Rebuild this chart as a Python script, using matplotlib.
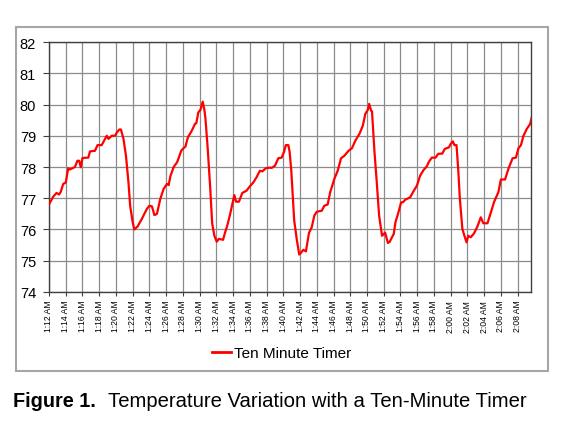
import matplotlib
matplotlib.use("Agg")
import matplotlib.pyplot as plt
from matplotlib.patches import Rectangle
from matplotlib.lines import Line2D

#Data (minutes after 1:12 AM, temperature)
minutes = [0.0, 0.5, 0.9, 1.2, 1.4, 1.7, 2.0, 2.3, 2.5, 3.1, 3.4, 3.6, 3.8, 4.0, 4.7, 4.9,
           5.5, 5.8, 6.3, 6.7, 6.9, 7.1, 7.5, 7.9, 8.1, 8.4, 8.6, 8.9, 9.2, 9.5, 9.7, 10.0,
           10.2, 10.6, 10.8, 11.1, 11.3, 11.7, 12.0, 12.3, 12.6, 12.9, 13.3, 13.7, 14.1, 14.3,
           14.5, 14.9, 15.3, 15.5, 15.8, 16.06, 16.3, 16.6, 17.06, 17.45, 17.6, 17.85, 18.1,
           18.37, 18.57, 18.7, 18.97, 19.25, 19.5, 19.76, 20.05, 20.3, 20.8, 21.04, 21.3, 21.6,
           21.96, 22.15, 22.35, 22.7, 23.1, 23.6, 24.0, 24.4, 24.8, 25.2, 25.5, 25.9, 26.4,
           26.6, 27.0, 27.4, 27.8, 28.1, 28.3, 28.6, 28.75, 28.95, 29.3, 29.6, 29.9, 30.1,
           30.4, 30.7, 31.08, 31.4, 31.7, 32.0, 32.6, 32.9, 33.3, 33.6, 34.1, 34.5, 34.9,
           35.3, 35.8, 36.2, 36.6, 37.1, 37.5, 37.8, 38.1, 38.26, 38.5, 38.6, 38.9, 39.2,
           39.45, 39.8, 40.17, 40.5, 40.7, 41.2, 41.4, 41.76, 42.08, 42.3, 42.56, 43.16, 43.55,
           43.96, 44.35, 44.75, 45.15, 45.4, 45.75, 46.2, 46.5, 47.0, 47.3, 47.8, 48.0, 48.26,
           48.45, 48.7, 48.9, 49.1, 49.4, 49.7, 49.9, 50.1, 50.4, 50.8, 51.2, 51.6, 51.9,
           52.4, 52.7, 53.2, 53.7, 54.0, 54.5, 54.9, 55.4, 55.8, 56.1, 56.4, 56.7, 57.1,
           57.5, 57.7]
temps = [76.8, 77.05, 77.17, 77.12, 77.2, 77.46, 77.5, 77.96, 77.92, 78.0, 78.2, 78.2, 77.99,
         78.29, 78.3, 78.5, 78.52, 78.7, 78.7, 78.9, 79.0, 78.9, 79.0, 79.0, 79.1, 79.2, 79.2,
         78.9, 78.36, 77.5, 76.76, 76.23, 76.0, 76.1, 76.2, 76.34, 76.45, 76.66, 76.76, 76.74,
         76.46, 76.5, 76.98, 77.3, 77.46, 77.42, 77.7, 78.0, 78.15, 78.29, 78.52, 78.6, 78.65,
         78.95, 79.16, 79.38, 79.4, 79.75, 79.83, 80.09, 79.83, 79.54, 78.58, 77.4, 76.2,
         75.8, 75.61, 75.7, 75.67, 75.9, 76.12, 76.44, 76.87, 77.1, 76.89, 76.89, 77.17,
         77.24, 77.38, 77.5, 77.67, 77.88, 77.86, 77.96, 77.98, 77.97, 78.04, 78.28, 78.3,
         78.49, 78.7, 78.7, 78.5, 77.9, 76.3, 75.7, 75.2, 75.25, 75.35, 75.3, 75.9, 76.07,
         76.44, 76.57, 76.6, 76.76, 76.8, 77.19, 77.62, 77.88, 78.28, 78.36, 78.52, 78.6,
         78.84, 79.06, 79.32, 79.7, 79.83, 80.02, 79.8, 79.78, 78.47, 77.4, 76.44, 75.8,
         75.9, 75.57, 75.6, 75.86, 76.23, 76.55, 76.87, 76.87, 76.95, 77.03, 77.22, 77.4,
         77.72, 77.9, 78.02, 78.17, 78.3, 78.3, 78.42, 78.43, 78.58, 78.63, 78.74, 78.82,
         78.7, 78.7, 77.94, 76.98, 76.02, 75.75, 75.59, 75.8, 75.75, 75.88, 76.1, 76.39,
         76.2, 76.2, 76.46, 76.89, 77.19, 77.6, 77.6, 77.94, 78.28, 78.3, 78.6, 78.7, 79.0,
         79.22, 79.38, 79.6]

tick_minutes = list(range(0, 57, 2))
tick_labels = ["1:12 AM", "1:14 AM", "1:16 AM", "1:18 AM", "1:20 AM", "1:22 AM", "1:24 AM",
               "1:26 AM", "1:28 AM", "1:30 AM", "1:32 AM", "1:34 AM", "1:36 AM", "1:38 AM",
               "1:40 AM", "1:42 AM", "1:44 AM", "1:46 AM", "1:48 AM", "1:50 AM", "1:52 AM",
               "1:54 AM", "1:56 AM", "1:58 AM", "2:00 AM", "2:02 AM", "2:04 AM", "2:06 AM",
               "2:08 AM"]
y_ticks = [74, 75, 76, 77, 78, 79, 80, 81, 82]

series_name = "Ten Minute Timer"
caption_bold = "Figure 1."
caption_text = "Temperature Variation with a Ten-Minute Timer"

plt.rcParams['font.family'] = ['Liberation Sans', 'DejaVu Sans']

fig = plt.figure(figsize=(5.67, 4.31), dpi=100)

#Outer chart box
fig.patches.append(Rectangle((0.0282, 0.1369), 0.9383, 0.798, transform=fig.transFigure,
                             fill=False, edgecolor="#a6a6a6", linewidth=1.5))

ax = fig.add_axes([0.0864, 0.3202, 0.8501, 0.58])
ax.plot(minutes, temps, color="#ff0000", linewidth=1.6, zorder=3)

ax.set_xlim(0, 57.6)
ax.set_ylim(74, 82)
ax.set_yticks(y_ticks)
ax.set_xticks(tick_minutes)
ax.set_xticklabels(tick_labels, rotation=90, fontsize=6.2)
ax.tick_params(axis='y', labelsize=10.5, length=4.3, pad=5, color="#404040")
ax.tick_params(axis='x', length=3, pad=2.5, color="#404040")
ax.grid(True, color="#8c8c8c", linewidth=0.9)
ax.set_axisbelow(True)
for s in ax.spines.values():
    s.set_color("#404040")
    s.set_linewidth(1.0)

#Legend below the plot
handle = Line2D([], [], color="#ff0000", linewidth=2)
fig.legend([handle], [series_name], loc='center', bbox_to_anchor=(0.497, 0.178),
           frameon=False, fontsize=11, handlelength=1.2, handletextpad=0.2)

#Caption
fig.text(0.0224, 0.0564, caption_bold, fontsize=14.3, fontweight='bold', va='baseline')
fig.text(0.1905, 0.0564, caption_text, fontsize=14.6, va='baseline')

fig.savefig("out.png", dpi=100)
